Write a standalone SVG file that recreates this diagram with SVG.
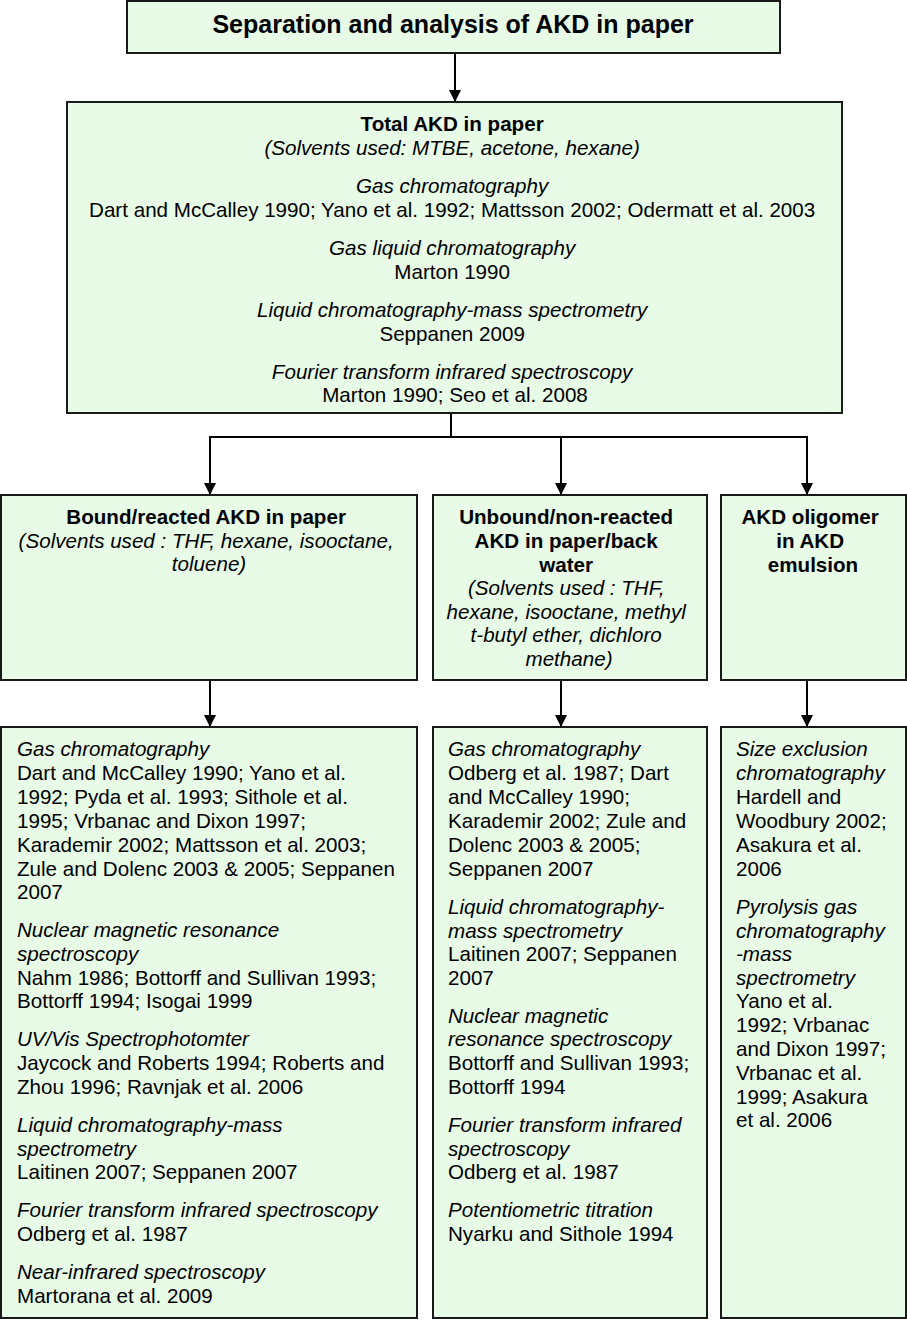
<svg xmlns="http://www.w3.org/2000/svg" width="907" height="1321" viewBox="0 0 907 1321">
<style>
.box{fill:#e8fbe6;stroke:#1a1a1a;stroke-width:2}
text{font-family:"Liberation Sans",Arial,sans-serif;font-size:20.6px;fill:#000}
.b{font-weight:bold}
.i{font-style:italic}
.c{text-anchor:middle}
.t{font-size:25px;font-weight:bold}
.ln{stroke:#000;stroke-width:2;fill:none}
</style>
<defs>
<marker id="ah" markerWidth="12" markerHeight="14" refX="11" refY="6" orient="auto" markerUnits="userSpaceOnUse">
<path d="M0,0 L12,6 L0,12 Z" fill="#000"/>
</marker>
</defs>
<rect width="907" height="1321" fill="#fff"/>
<g id="connectors">
<path class="ln" d="M455,53 V101" marker-end="url(#ah)"/>
<path class="ln" d="M451,413 V437"/>
<path class="ln" d="M209,437 H808"/>
<path class="ln" d="M210,437 V494" marker-end="url(#ah)"/>
<path class="ln" d="M561,437 V494" marker-end="url(#ah)"/>
<path class="ln" d="M807,437 V494" marker-end="url(#ah)"/>
<path class="ln" d="M210,680 V726" marker-end="url(#ah)"/>
<path class="ln" d="M561,680 V726" marker-end="url(#ah)"/>
<path class="ln" d="M807,680 V726" marker-end="url(#ah)"/>
</g>
<g id="title">
<rect class="box" x="127" y="1" width="653" height="52"/>
<text class="t c" x="453" y="33">Separation and analysis of AKD in paper</text>
</g>
<g id="total">
<rect class="box" x="67" y="102" width="775" height="311"/>
<text class="c" x="455">
<tspan class="b" x="455" y="131">Total AKD in paper</tspan>
<tspan class="i" x="455" y="155">(Solvents used: MTBE, acetone, hexane)</tspan>
<tspan class="i" x="455" y="193">Gas chromatography</tspan>
<tspan x="455" y="217">Dart and McCalley 1990; Yano et al. 1992; Mattsson 2002; Odermatt et al. 2003</tspan>
<tspan class="i" x="455" y="255">Gas liquid chromatography</tspan>
<tspan x="455" y="279">Marton 1990</tspan>
<tspan class="i" x="455" y="317">Liquid chromatography-mass spectrometry</tspan>
<tspan x="455" y="341">Seppanen 2009</tspan>
<tspan class="i" x="455" y="379">Fourier transform infrared spectroscopy</tspan>
<tspan x="455" y="402">Marton 1990; Seo et al. 2008</tspan>
</text>
</g>
<g id="bound">
<rect class="box" x="1" y="495" width="416" height="185"/>
<text class="c">
<tspan class="b" x="209" y="524">Bound/reacted AKD in paper</tspan>
<tspan class="i" x="209" y="548">(Solvents used : THF, hexane, isooctane,</tspan>
<tspan class="i" x="209" y="571">toluene)</tspan>
</text>
</g>
<g id="unbound">
<rect class="box" x="433" y="495" width="274" height="185"/>
<text class="c">
<tspan class="b" x="569" y="524">Unbound/non-reacted</tspan>
<tspan class="b" x="569" y="548">AKD in paper/back</tspan>
<tspan class="b" x="569" y="572">water</tspan>
<tspan class="i" x="569" y="595">(Solvents used : THF,</tspan>
<tspan class="i" x="569" y="619">hexane, isooctane, methyl</tspan>
<tspan class="i" x="569" y="642">t-butyl ether, dichloro</tspan>
<tspan class="i" x="569" y="666">methane)</tspan>
</text>
</g>
<g id="oligomer">
<rect class="box" x="721" y="495" width="185" height="185"/>
<text class="c b">
<tspan x="813" y="524">AKD oligomer</tspan>
<tspan x="813" y="548">in AKD</tspan>
<tspan x="813" y="572">emulsion</tspan>
</text>
</g>
<g id="bound-methods">
<rect class="box" x="1" y="727" width="416" height="591"/>
<text>
<tspan class="i" x="17" y="756">Gas chromatography</tspan>
<tspan x="17" y="780">Dart and McCalley 1990; Yano et al.</tspan>
<tspan x="17" y="804">1992; Pyda et al. 1993; Sithole et al.</tspan>
<tspan x="17" y="828">1995; Vrbanac and Dixon 1997;</tspan>
<tspan x="17" y="852">Karademir 2002; Mattsson et al. 2003;</tspan>
<tspan x="17" y="876">Zule and Dolenc 2003 &amp; 2005; Seppanen</tspan>
<tspan x="17" y="899">2007</tspan>
<tspan class="i" x="17" y="937">Nuclear magnetic resonance</tspan>
<tspan class="i" x="17" y="961">spectroscopy</tspan>
<tspan x="17" y="985">Nahm 1986; Bottorff and Sullivan 1993;</tspan>
<tspan x="17" y="1008">Bottorff 1994; Isogai 1999</tspan>
<tspan class="i" x="17" y="1046">UV/Vis Spectrophotomter</tspan>
<tspan x="17" y="1070">Jaycock and Roberts 1994; Roberts and</tspan>
<tspan x="17" y="1094">Zhou 1996; Ravnjak et al. 2006</tspan>
<tspan class="i" x="17" y="1132">Liquid chromatography-mass</tspan>
<tspan class="i" x="17" y="1156">spectrometry</tspan>
<tspan x="17" y="1179">Laitinen 2007; Seppanen 2007</tspan>
<tspan class="i" x="17" y="1217">Fourier transform infrared spectroscopy</tspan>
<tspan x="17" y="1241">Odberg et al. 1987</tspan>
<tspan class="i" x="17" y="1279">Near-infrared spectroscopy</tspan>
<tspan x="17" y="1303">Martorana et al. 2009</tspan>
</text>
</g>
<g id="unbound-methods">
<rect class="box" x="433" y="727" width="274" height="591"/>
<text>
<tspan class="i" x="448" y="756">Gas chromatography</tspan>
<tspan x="448" y="780">Odberg et al. 1987; Dart</tspan>
<tspan x="448" y="804">and McCalley 1990;</tspan>
<tspan x="448" y="828">Karademir 2002; Zule and</tspan>
<tspan x="448" y="852">Dolenc 2003 &amp; 2005;</tspan>
<tspan x="448" y="876">Seppanen 2007</tspan>
<tspan class="i" x="448" y="914">Liquid chromatography-</tspan>
<tspan class="i" x="448" y="938">mass spectrometry</tspan>
<tspan x="448" y="961">Laitinen 2007; Seppanen</tspan>
<tspan x="448" y="985">2007</tspan>
<tspan class="i" x="448" y="1023">Nuclear magnetic</tspan>
<tspan class="i" x="448" y="1046">resonance spectroscopy</tspan>
<tspan x="448" y="1070">Bottorff and Sullivan 1993;</tspan>
<tspan x="448" y="1094">Bottorff 1994</tspan>
<tspan class="i" x="448" y="1132">Fourier transform infrared</tspan>
<tspan class="i" x="448" y="1156">spectroscopy</tspan>
<tspan x="448" y="1179">Odberg et al. 1987</tspan>
<tspan class="i" x="448" y="1217">Potentiometric titration</tspan>
<tspan x="448" y="1241">Nyarku and Sithole 1994</tspan>
</text>
</g>
<g id="oligomer-methods">
<rect class="box" x="721" y="727" width="185" height="591"/>
<text>
<tspan class="i" x="736" y="756">Size exclusion</tspan>
<tspan class="i" x="736" y="780">chromatography</tspan>
<tspan x="736" y="804">Hardell and</tspan>
<tspan x="736" y="828">Woodbury 2002;</tspan>
<tspan x="736" y="852">Asakura et al.</tspan>
<tspan x="736" y="876">2006</tspan>
<tspan class="i" x="736" y="914">Pyrolysis gas</tspan>
<tspan class="i" x="736" y="938">chromatography</tspan>
<tspan class="i" x="736" y="961">-mass</tspan>
<tspan class="i" x="736" y="985">spectrometry</tspan>
<tspan x="736" y="1008">Yano et al.</tspan>
<tspan x="736" y="1032">1992; Vrbanac</tspan>
<tspan x="736" y="1056">and Dixon 1997;</tspan>
<tspan x="736" y="1080">Vrbanac et al.</tspan>
<tspan x="736" y="1104">1999; Asakura</tspan>
<tspan x="736" y="1127">et al. 2006</tspan>
</text>
</g>
</svg>
